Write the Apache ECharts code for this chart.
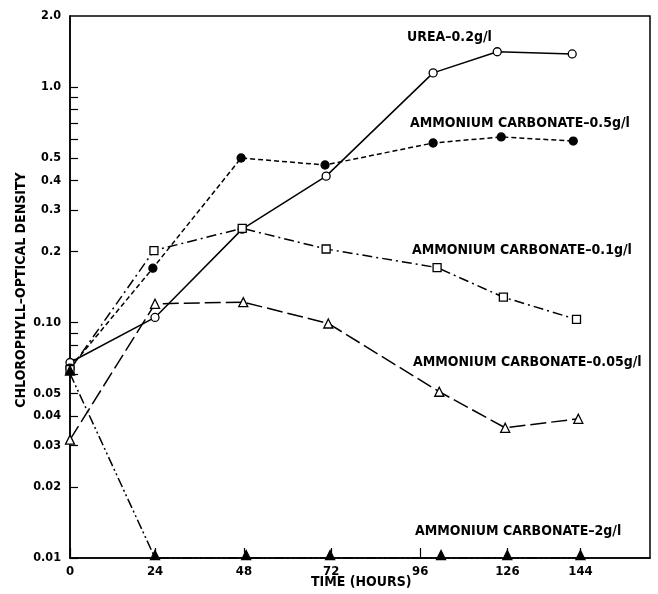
<!DOCTYPE html>
<html>
<head>
<meta charset="utf-8">
<script src="https://cdn.jsdelivr.net/npm/echarts@6/dist/echarts.min.js"></script>
<style>html,body{margin:0;padding:0;background:#fff;}#c{width:658px;height:594px;}</style>
</head>
<body>
<div id="c"></div>
<script>
// ---- data (hours, optical density) ----
const xTickHours = [0, 23.6, 48.3, 72.5, 97.2, 121.4, 141.7];
const xTickLabels = ['0', '24', '48', '72', '96', '126', '144'];
const yTickValues = [0.01, 0.02, 0.03, 0.04, 0.05, 0.06, 0.07, 0.08, 0.09, 0.1, 0.2, 0.3, 0.4, 0.5, 0.6, 0.7, 0.8, 0.9, 1.0];
const yLabelValues = [0.01, 0.02, 0.03, 0.04, 0.05, 0.1, 0.2, 0.3, 0.4, 0.5, 1.0, 2.0];
const yLabelTexts = ['0.01', '0.02', '0.03', '0.04', '0.05', '0.10', '0.2', '0.3', '0.4', '0.5', '1.0', '2.0'];

const ureaHours = [0, 23.6, 47.8, 71.1, 100.8, 118.6, 139.4];
const ureaOD = [0.0676, 0.105, 0.249, 0.418, 1.147, 1.41, 1.38];

const ac05Hours = [0, 23.0, 47.5, 70.8, 100.8, 119.7, 139.7];
const ac05OD = [0.064, 0.170, 0.499, 0.466, 0.578, 0.613, 0.589];

const ac01Hours = [0, 23.3, 47.8, 71.1, 101.9, 120.3, 140.6];
const ac01OD = [0.063, 0.202, 0.251, 0.205, 0.171, 0.128, 0.103];

const ac005Hours = [0, 23.6, 48.1, 71.7, 102.5, 120.8, 141.1];
const ac005OD = [0.0318, 0.120, 0.122, 0.099, 0.0508, 0.0357, 0.039];

const ac2Hours = [0, 23.6, 48.9, 72.2, 103.0, 121.4, 141.7];
const ac2OD = [0.0607, 0.01, 0.01, 0.01, 0.01, 0.01, 0.01];

const seriesNames = ['UREA\u20130.2g/l', 'AMMONIUM CARBONATE\u20130.5g/l', 'AMMONIUM CARBONATE\u20130.1g/l', 'AMMONIUM CARBONATE\u20130.05g/l', 'AMMONIUM CARBONATE\u20132g/l'];

// ---- build ----
const L = Math.log10;
const pts = (xs, ys) => xs.map((x, i) => [x, L(ys[i])]);
const near = (a, b) => Math.abs(a - b) < 1e-6;

function mkSeries(name, xs, ys, dash, symbol, filled, size, offset) {
  return {
    name: name, type: 'line', data: pts(xs, ys),
    symbol: symbol, symbolSize: size, showSymbol: true, symbolOffset: offset || [0, 0],
    lineStyle: { color: '#000', width: 1.5, type: dash },
    itemStyle: { color: filled ? '#000' : '#fff', borderColor: '#000', borderWidth: 1.3 },
    z: 3, animation: false
  };
}

const chart = echarts.init(document.getElementById('c'), null, { renderer: 'canvas' });
const FAM = '"DejaVu Sans Condensed", "DejaVu Sans", sans-serif';
const fontAnn = 'bold 14px ' + FAM;

chart.setOption({
  backgroundColor: '#fff',
  animation: false,
  grid: { left: 70, right: 8, top: 16, bottom: 36, show: true, borderColor: '#000', borderWidth: 1.5 },
  xAxis: {
    type: 'value', min: 0, max: 161,
    axisLine: { show: true, onZero: false, lineStyle: { color: '#000', width: 1.5 } },
    axisTick: { show: true, inside: true, length: 10, customValues: xTickHours, lineStyle: { color: '#000', width: 1.2 } },
    axisLabel: {
      customValues: xTickHours, color: '#000', fontFamily: FAM,
      fontWeight: 'bold', fontSize: 13, margin: 7,
      formatter: v => { const i = xTickHours.findIndex(t => near(t, v)); return i >= 0 ? xTickLabels[i] : ''; }
    },
    splitLine: { show: false }
  },
  yAxis: {
    type: 'value', min: -2, max: L(2.0),
    axisLine: { show: true, onZero: false, lineStyle: { color: '#000', width: 1.5 } },
    axisTick: { show: true, inside: true, length: 8, customValues: yTickValues.map(L), lineStyle: { color: '#000', width: 1.2 } },
    axisLabel: {
      customValues: yLabelValues.map(L), color: '#000', fontFamily: FAM,
      fontWeight: 'bold', fontSize: 12.5, margin: 9,
      formatter: v => { const i = yLabelValues.findIndex(t => near(L(t), v)); return i >= 0 ? yLabelTexts[i] : ''; }
    },
    splitLine: { show: false }
  },
  series: [
    mkSeries(seriesNames[0], ureaHours, ureaOD, 'solid', 'circle', false, 8),
    mkSeries(seriesNames[1], ac05Hours, ac05OD, [5, 3], 'circle', true, 8),
    mkSeries(seriesNames[2], ac01Hours, ac01OD, [10, 4, 2, 4], 'rect', false, 8),
    mkSeries(seriesNames[3], ac005Hours, ac005OD, [16, 5], 'triangle', false, 9),
    mkSeries(seriesNames[4], ac2Hours, ac2OD, [10, 3, 2, 3, 2, 3], 'triangle', true, 9, [0, -3])
  ],
  graphic: [
    { type: 'text', left: 407, top: 30, style: { text: seriesNames[0], font: fontAnn, fill: '#000' } },
    { type: 'text', left: 410, top: 116, style: { text: seriesNames[1], font: fontAnn, fill: '#000' } },
    { type: 'text', left: 412, top: 243, style: { text: seriesNames[2], font: fontAnn, fill: '#000' } },
    { type: 'text', left: 413, top: 355, style: { text: seriesNames[3], font: fontAnn, fill: '#000' } },
    { type: 'text', left: 415, top: 524, style: { text: seriesNames[4], font: fontAnn, fill: '#000' } },
    { type: 'text', left: 311, top: 575, style: { text: 'TIME (HOURS)', font: fontAnn, fill: '#000' } },
    { type: 'text', x: 21, y: 290, rotation: Math.PI / 2,
      style: { text: 'CHLOROPHYLL\u2013OPTICAL DENSITY', font: fontAnn, fill: '#000', align: 'center', verticalAlign: 'middle' } }
  ]
});
</script>
</body>
</html>
